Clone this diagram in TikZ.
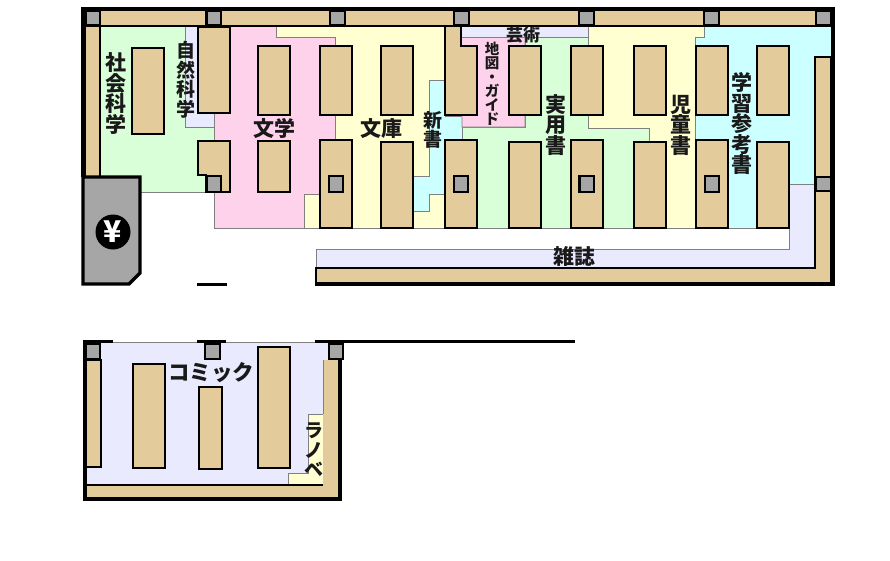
\documentclass[tikz,border=0pt]{standalone}
\usepackage{fontspec}
\newfontfamily\jp{Noto Sans CJK JP}
\definecolor{tan}{HTML}{E3CB9C}
\definecolor{pil}{HTML}{A6A6A6}
\definecolor{cgreen}{HTML}{D9FFD9}
\definecolor{cpink}{HTML}{FFD2EC}
\definecolor{cyel}{HTML}{FFFFD2}
\definecolor{cblue}{HTML}{CCFFFF}
\definecolor{clav}{HTML}{EAEAFF}
\tikzset{
  zone/.style={draw=black!50,line width=0.7pt},
  shelf/.style={draw=black,fill=tan,line width=1.8pt},
  wall/.style={draw=black,fill=tan,line width=1.6pt},
  pillar/.style={draw=black,fill=pil,line width=2.8pt},
  heavy/.style={draw=black,line width=4pt,line cap=butt,line join=miter},
  lbl/.style={inner sep=0pt,align=center,text=black!90},
  jpa/.style={font=\jp\bfseries\fontsize{21}{20.5}\selectfont},
  jpb/.style={font=\jp\bfseries\fontsize{19}{19.5}\selectfont},
  jpc/.style={font=\jp\bfseries\fontsize{14.5}{14}\selectfont},
  jpd/.style={font=\jp\bfseries\fontsize{17}{17}\selectfont},
  jpe/.style={font=\jp\bfseries\fontsize{21.5}{21}\selectfont},
  jpy/.style={font=\jp\bfseries\fontsize{30}{30}\selectfont},
}
\begin{document}
\begin{tikzpicture}[x=1pt,y=-1pt]
\useasboundingbox (0,0) rectangle (890,560);
% zones
\fill[white] (0,0) rectangle (890,560);
\draw[zone,fill=cgreen] (100,26)--(185,26)--(185,127)--(214,127)--(214,192)--(100,192)--cycle;
\draw[zone,fill=clav] (185,26)--(198,26)--(198,113)--(214,113)--(214,127)--(185,127)--cycle;
\draw[zone,fill=cpink] (214,26)--(276,26)--(276,37)--(335,37)--(335,194)--(304,194)--(304,228)--(214,228)--cycle;
\draw[zone,fill=cyel] (276,26)--(445,26)--(445,80)--(429,80)--(429,176)--(413,176)--(413,211)--(429,211)--(429,194)--(445,194)--(445,228)--(304,228)--(304,194)--(335,194)--(335,37)--(276,37)--cycle;
\draw[zone,fill=cblue] (429,80)--(445,80)--(445,116)--(462,116)--(462,139)--(445,139)--(445,194)--(429,194)--(429,211)--(413,211)--(413,176)--(429,176)--cycle;
\draw[zone,fill=cgreen] (525,37)--(588,37)--(588,128)--(649,128)--(649,228)--(462,228)--(462,127)--(525,127)--cycle;
\draw[zone,fill=cpink] (461,37)--(525,37)--(525,127)--(462,127)--cycle;
\draw[zone,fill=clav] (461,26)--(588,26)--(588,37)--(461,37)--cycle;
\draw[zone,fill=cyel] (588,26)--(704,26)--(704,37)--(695,37)--(695,228)--(649,228)--(649,128)--(588,128)--cycle;
\draw[zone,fill=cblue] (704,26)--(831,26)--(831,57)--(815,57)--(815,184)--(789,184)--(789,228)--(695,228)--(695,37)--(704,37)--cycle;
\draw[zone,fill=clav] (316,249)--(789,249)--(789,184)--(815,184)--(815,268)--(316,268)--cycle;
% walls
\draw[wall] (85,10) rectangle (831,26);
\draw[wall] (85,26) rectangle (100,177);
\draw[wall] (316,268)--(815,268)--(815,57)--(831,57)--(831,283)--(316,283)--cycle;
\draw[heavy] (83,177)--(83,9)--(833,9)--(833,284)--(316,284);
\draw[line width=2pt] (316,268)--(316,286);
% cashier
\draw[draw=black,fill=pil,line width=3.4pt] (83,177)--(140,177)--(140,273)--(129,284)--(83,284)--cycle;
\fill[black] (113,232) circle (17.5);
\node[lbl,jpy,text=white] (yen) at (113,232) {¥};
\draw[line width=3.5pt] (197,284.5)--(227,284.5);
% shelves
\draw[shelf] (132,48) rectangle (164,134);
\draw[shelf] (198,27) rectangle (230,113);
\draw[shelf] (198,141)--(230,141)--(230,192)--(206,192)--(206,175)--(198,175)--cycle;
\draw[shelf] (258,46) rectangle (290,115);
\draw[shelf] (258,141) rectangle (290,192);
\draw[shelf] (320,46) rectangle (352,115);
\draw[shelf] (320,140) rectangle (352,228);
\draw[shelf] (381,46) rectangle (413,115);
\draw[shelf] (381,142) rectangle (413,228);
\draw[shelf] (445,26)--(461,26)--(461,46)--(477,46)--(477,115)--(445,115)--cycle;
\draw[shelf] (445,140) rectangle (477,228);
\draw[shelf] (509,46) rectangle (541,115);
\draw[shelf] (509,142) rectangle (541,228);
\draw[shelf] (571,46) rectangle (603,115);
\draw[shelf] (571,140) rectangle (603,228);
\draw[shelf] (634,46) rectangle (666,115);
\draw[shelf] (634,142) rectangle (666,228);
\draw[shelf] (696,46) rectangle (728,115);
\draw[shelf] (696,140) rectangle (728,228);
\draw[shelf] (757,46) rectangle (789,115);
\draw[shelf] (757,142) rectangle (789,228);
% pillars
\draw[pillar] (86,11) rectangle (100,25);
\draw[pillar] (206.5,11) rectangle (221,25);
\draw[pillar] (330,11) rectangle (345,25);
\draw[pillar] (454,11) rectangle (469,25);
\draw[pillar] (579,11) rectangle (594,25);
\draw[pillar] (704,11) rectangle (719,25);
\draw[pillar] (816,11) rectangle (831,25);
\draw[pillar] (206.5,176) rectangle (221,192);
\draw[pillar] (329,176) rectangle (343,192);
\draw[pillar] (454,176) rectangle (468,192);
\draw[pillar] (579.5,176) rectangle (594,192);
\draw[pillar] (705,176) rectangle (719,192);
\draw[pillar] (816,177) rectangle (831,191);
% lower room
\fill[clav] (87,342) rectangle (338,485);
\draw[zone,fill=cyel] (308,414)--(323,414)--(323,485)--(288,485)--(288,473)--(308,473)--cycle;
\fill[tan] (87,485)--(323,485)--(323,360)--(338,360)--(338,497)--(87,497)--cycle;
\draw[line width=1.6pt] (87,485)--(323,485);
\draw[black!50,line width=0.7pt] (323,360)--(323,414);
\draw[wall] (86,360) rectangle (101,467);
\draw[black!50,line width=0.7pt] (113,342)--(315,342);
\draw[heavy] (85,342)--(85,499)--(340,499)--(340,345);
\draw[line width=3pt] (83,341.5)--(113,341.5);
\draw[line width=3pt] (197,341.5)--(226,341.5);
\draw[line width=3pt] (315,341.5)--(575,341.5);
\draw[shelf] (133,364) rectangle (165,468);
\draw[shelf] (199,387) rectangle (222,469);
\draw[shelf] (258,347) rectangle (290,468);
\draw[pillar] (86,344) rectangle (100,359);
\draw[pillar] (205,344) rectangle (220,359);
\draw[pillar] (329,344) rectangle (343,359);
% labels
\node[lbl,jpa] (shakai) at (116,93.5) {社\\会\\科\\学};
\node[lbl,jpb] (shizen) at (186,80) {自\\然\\科\\学};
\node[lbl,jpa] (bungaku) at (274,128) {文学};
\node[lbl,jpa] (bunko) at (381,129) {文庫};
\node[lbl,jpb] (shinsho) at (433,130) {新\\書};
\node[lbl,jpd] (geijutsu) at (523,35) {芸術};
\node[lbl,jpc] (chizu) at (492,84) {地\\図\\・\\ガ\\イ\\ド};
\node[lbl,jpa] (jitsuyo) at (556,125) {実\\用\\書};
\node[lbl,jpa] (jido) at (681,125) {児\\童\\書};
\node[lbl,jpa] (gakushu) at (742,123.5) {学\\習\\参\\考\\書};
\node[lbl,jpa] (zasshi) at (574,256) {雑誌};
\node[lbl,jpe] (comic) at (211,373) {コミック};
\node[lbl,jpb] (ranobe) at (314,450) {ラ\\ノ\\ベ};
\end{tikzpicture}
\end{document}
